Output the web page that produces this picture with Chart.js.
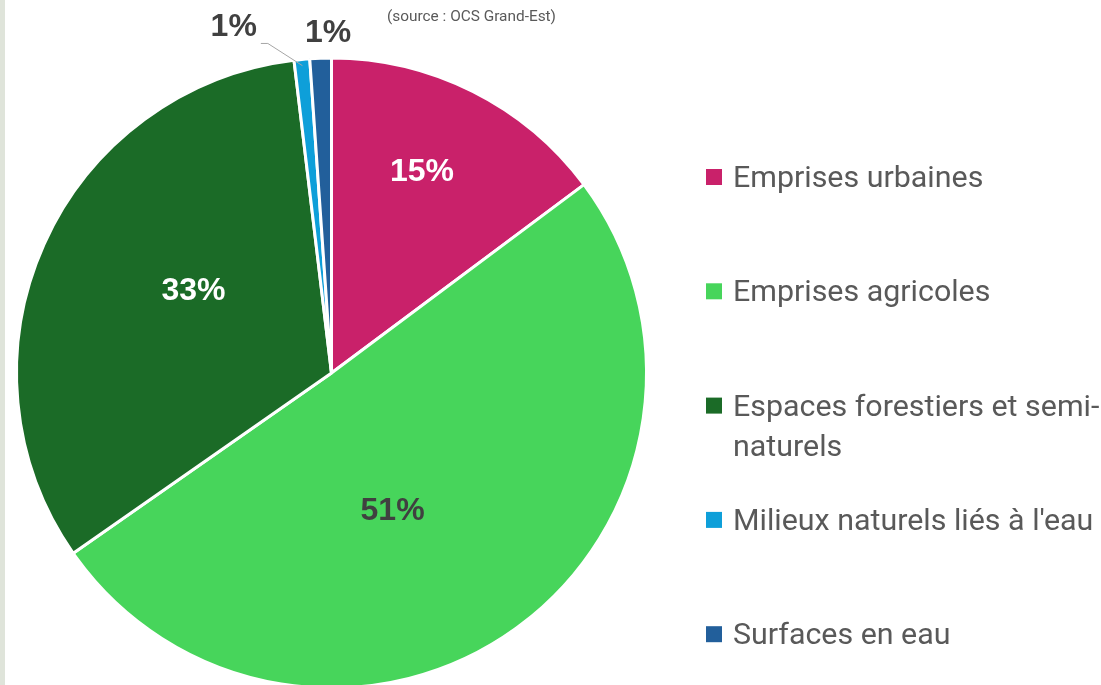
<!DOCTYPE html>
<html>
<head>
<meta charset="utf-8">
<script src="https://cdn.jsdelivr.net/npm/chart.js@4.4.1/dist/chart.umd.min.js"></script>
<style>
    html, body { margin: 0; padding: 0; background: #fff; overflow: hidden; }
    #wrap { position: relative; width: 1101px; height: 685px; overflow: hidden; }
    #strip { position: absolute; left: 0; top: 0; width: 5px; height: 685px; background: #dfe4da; }
    #landChart { position: absolute; left: 0; top: 0; }
</style>
</head>
<body>
<div id="wrap">
    <div id="strip"></div>
    <canvas id="landChart" width="1101" height="700"></canvas>
</div>
<script>
// Land cover shares (source : OCS Grand-Est)
const categories = [
    'Emprises urbaines',
    'Emprises agricoles',
    ['Espaces forestiers et semi-', 'naturels'],
    'Milieux naturels liés à l\'eau',
    'Surfaces en eau'
];
const shares = [14.8, 50.5, 32.8, 0.8, 1.1];
const shareLabels = ['15%', '51%', '33%', '1%', '1%'];
const sliceColors = ['#c9216a', '#47d55b', '#1b6b27', '#0e9fd9', '#225f9b'];

// percentage labels drawn on / around the slices
const sliceLabels = {
    id: 'sliceLabels',
    afterDatasetsDraw(chart, args, opts) {
        const ctx = chart.ctx;
        const meta = chart.getDatasetMeta(0);
        ctx.save();
        ctx.font = opts.font;
        ctx.textAlign = 'center';
        ctx.textBaseline = 'middle';
        meta.data.forEach((arc, i) => {
            const p = opts.place[i];
            const a = arc.getProps(['x', 'y', 'startAngle', 'endAngle', 'outerRadius'], true);
            const mid = (a.startAngle + a.endAngle) / 2;
            const ang = mid + p.shift * Math.PI / 180;
            const lx = a.x + Math.cos(ang) * a.outerRadius * p.r;
            const ly = a.y + Math.sin(ang) * a.outerRadius * p.r;
            ctx.fillStyle = p.color;
            ctx.fillText(shareLabels[i], lx, ly);
            if (p.leader) {
                const w = ctx.measureText(shareLabels[i]).width;
                const sx = lx + w / 2 + 4;
                const sy = ly + 16;
                ctx.strokeStyle = '#a6a6a6';
                ctx.lineWidth = 1;
                ctx.beginPath();
                ctx.moveTo(sx, sy);
                ctx.lineTo(sx + 7, sy);
                ctx.lineTo(a.x + Math.cos(mid) * a.outerRadius * 0.98,
                           a.y + Math.sin(mid) * a.outerRadius * 0.98);
                ctx.stroke();
            }
        });
        ctx.restore();
    }
};

// legend on the right, with wrapped label for the forest class
const sideLegend = {
    id: 'sideLegend',
    afterDraw(chart, args, opts) {
        const ctx = chart.ctx;
        const colors = chart.data.datasets[0].backgroundColor;
        ctx.save();
        ctx.font = opts.font;
        ctx.textBaseline = 'alphabetic';
        ctx.textAlign = 'left';
        chart.data.labels.forEach((label, i) => {
            const lines = Array.isArray(label) ? label : [label];
            const cy = opts.top + i * opts.step;
            ctx.fillStyle = colors[i];
            ctx.fillRect(opts.left, cy - 8, 16, 16);
            ctx.fillStyle = opts.color;
            lines.forEach((ln, j) => {
                ctx.fillText(ln, opts.left + 27, cy + 10 + j * opts.lineHeight);
            });
        });
        // source note
        ctx.font = opts.noteFont;
        ctx.fillStyle = opts.color;
        ctx.textBaseline = 'middle';
        ctx.fillText('(source : OCS Grand-Est)', 387, 17);
        ctx.restore();
    }
};

const ctx = document.getElementById('landChart').getContext('2d');
new Chart(ctx, {
    type: 'pie',
    data: {
        labels: categories,
        datasets: [{
            data: shares,
            backgroundColor: sliceColors,
            borderColor: '#ffffff',
            borderWidth: 3
        }]
    },
    options: {
        responsive: false,
        animation: false,
        layout: {
            padding: { left: 15, right: 453, top: 56, bottom: 10 }
        },
        plugins: {
            legend: { display: false },
            tooltip: { enabled: false },
            sliceLabels: {
                font: 'bold 32px "Liberation Sans", Arial, sans-serif',
                place: [
                    { r: 0.70, shift: -2.4, color: '#ffffff' },
                    { r: 0.48, shift: 12, color: '#404040' },
                    { r: 0.51, shift: 6.7, color: '#ffffff' },
                    { r: 1.14, shift: -10.4, color: '#404040', leader: true },
                    { r: 1.08, shift: 1.4, color: '#404040' }
                ]
            },
            sideLegend: {
                left: 706,
                top: 177,
                step: 114.3,
                lineHeight: 40,
                font: '30.4px Roboto, "Noto Sans", sans-serif',
                noteFont: '15.4px Roboto, sans-serif',
                color: '#595959'
            }
        }
    },
    plugins: [sliceLabels, sideLegend]
});
</script>
</body>
</html>
